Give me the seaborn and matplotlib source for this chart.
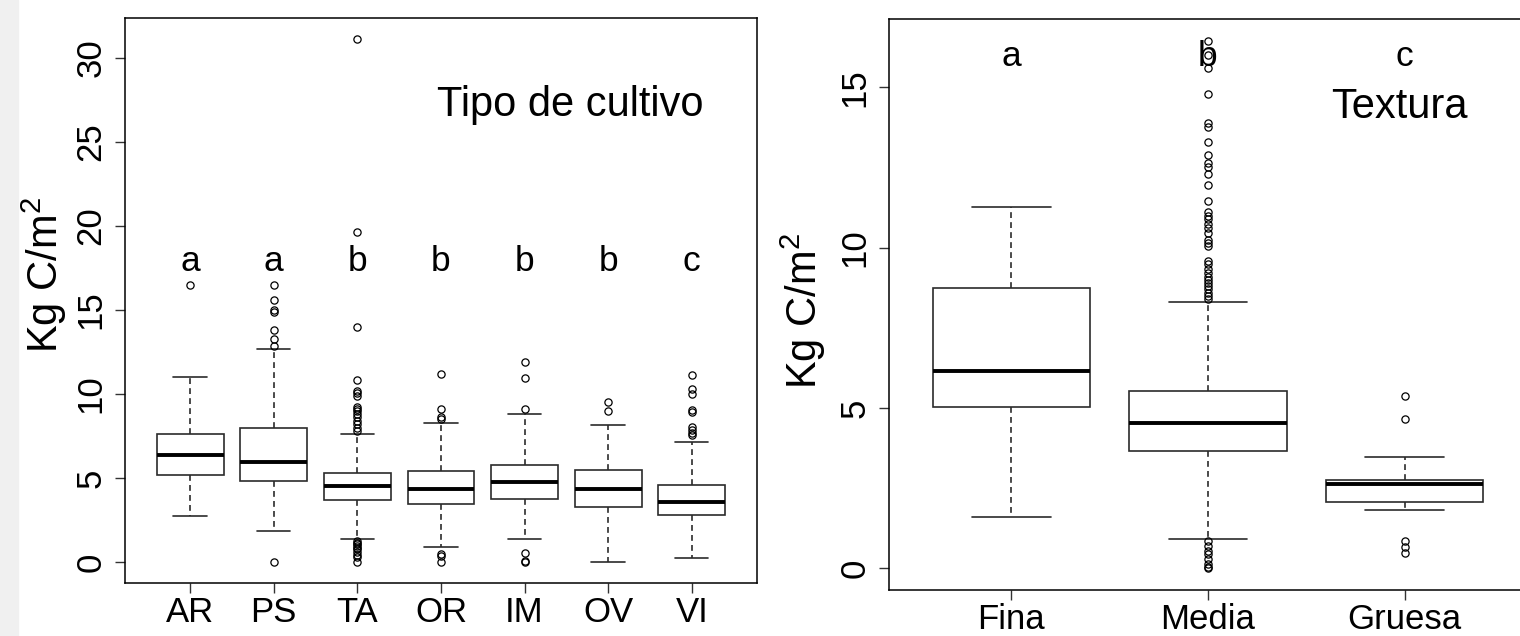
import numpy as np
import pandas as pd
import matplotlib.pyplot as plt
import seaborn as sns
from matplotlib.patches import Rectangle

# --- Tipo de cultivo (panel izquierdo) ---
cultivos = ['AR', 'PS', 'TA', 'OR', 'IM', 'OV', 'VI']
cult_letras = ['a', 'a', 'b', 'b', 'b', 'b', 'c']
cult_bigote_inf = [2.72, 1.83, 1.36, 0.88, 1.35, 0.00, 0.26]
cult_q1 = [5.16, 4.82, 3.72, 3.48, 3.73, 3.26, 2.78]
cult_mediana = [6.37, 5.98, 4.51, 4.37, 4.74, 4.35, 3.59]
cult_q3 = [7.60, 7.96, 5.30, 5.42, 5.77, 5.48, 4.61]
cult_bigote_sup = [11.01, 12.64, 7.60, 8.27, 8.81, 8.14, 7.13]
cult_atipicos = [
    [16.45],
    [0.0, 12.84, 13.26, 13.79, 14.84, 14.98, 15.56, 16.47],
    [0.0, 0.3, 0.45, 0.6, 0.75, 0.85, 0.95, 1.05, 1.15, 1.25,
     7.8, 8.0, 8.2, 8.4, 8.6, 8.8, 9.0, 9.1, 9.25, 9.9, 10.05, 10.2, 10.85,
     13.95, 19.6, 31.1],
    [0.0, 0.34, 0.5, 8.49, 8.63, 9.09, 11.21],
    [0.0, 0.05, 0.54, 9.09, 10.92, 11.89],
    [8.97, 9.52],
    [7.58, 7.7, 7.84, 8.04, 8.93, 9.03, 9.98, 10.32, 11.15],
]

# --- Textura (panel derecho) ---
texturas = ['Fina', 'Media', 'Gruesa']
tex_letras = ['a', 'b', 'c']
tex_bigote_inf = [1.61, 0.92, 1.83]
tex_q1 = [5.03, 3.67, 2.08]
tex_mediana = [6.15, 4.52, 2.62]
tex_q3 = [8.73, 5.53, 2.75]
tex_bigote_sup = [11.26, 8.31, 3.48]
tex_atipicos = [
    [],
    [0.0, 0.05, 0.15, 0.3, 0.45, 0.55, 0.7, 0.85,
     8.4, 8.5, 8.6, 8.7, 8.8, 8.9, 9.0, 9.1, 9.2, 9.35, 9.5, 9.6,
     10.05, 10.15, 10.25, 10.45, 10.6, 10.75, 10.9, 11.0, 11.1, 11.45,
     11.95, 12.3, 12.5, 12.65, 12.9, 13.3, 13.75, 13.9, 14.8, 15.6, 16.0, 16.45],
    [0.49, 0.67, 0.85, 4.67, 5.39],
]


def tabla(grupos, b_inf, q1, med, q3, b_sup, atip, peso=200):
    # seaborn solo acepta datos crudos: cada grupo se arma con sus cinco
    # estadisticos (cuartiles con peso para fijarlos) mas sus atipicos
    filas = []
    for g, lo, a, m, b, hi, out in zip(grupos, b_inf, q1, med, q3, b_sup, atip):
        vals = [lo, hi] + [a] * peso + [m] * peso + [b] * peso + list(out)
        filas += [(g, v) for v in vals]
    return pd.DataFrame(filas, columns=['grupo', 'carbono'])


df_cult = tabla(cultivos, cult_bigote_inf, cult_q1, cult_mediana, cult_q3,
                cult_bigote_sup, cult_atipicos)
df_tex = tabla(texturas, tex_bigote_inf, tex_q1, tex_mediana, tex_q3,
               tex_bigote_sup, tex_atipicos)

sns.set_style('ticks')
plt.rcParams['font.family'] = ['Liberation Sans', 'DejaVu Sans']
plt.rcParams['text.color'] = 'black'
plt.rcParams['axes.labelcolor'] = 'black'
plt.rcParams['mathtext.fontset'] = 'custom'
plt.rcParams['mathtext.rm'] = 'Liberation Sans'
plt.rcParams['mathtext.it'] = 'Liberation Sans'

fig = plt.figure(figsize=(15.2, 6.36), dpi=100)
fig.patches.append(Rectangle((0, 0), 18 / 1520, 1, transform=fig.transFigure,
                             color='#f0f0f0', zorder=0))

ax1 = fig.add_axes([0.0822, 0.0833, 0.4158, 0.8884])
ax2 = fig.add_axes([0.5851, 0.0719, 0.4193, 0.8978])

caja = dict(width=0.8, color='white', linecolor='#2b2b2b', linewidth=1.2,
            whis=1.5, fliersize=5.2,
            medianprops=dict(color='black', linewidth=2.8),
            whiskerprops=dict(linestyle=(0, (3.5, 2.5))),
            flierprops=dict(marker='o', markerfacecolor='none',
                            markeredgecolor='black', markeredgewidth=0.9))

sns.boxplot(data=df_cult, x='grupo', y='carbono', order=cultivos, ax=ax1, **caja)
sns.boxplot(data=df_tex, x='grupo', y='carbono', order=texturas, ax=ax2, **caja)

for i, letra in enumerate(cult_letras):
    ax1.text(i, 17.9, letra, ha='center', va='center', fontsize=25.5)
for i, letra in enumerate(tex_letras):
    ax2.text(i, 15.95, letra, ha='center', va='center', fontsize=25.5)

ax1.text(0.704, 0.846, 'Tipo de cultivo', transform=ax1.transAxes,
         ha='center', va='center', fontsize=30)
ax2.text(0.801, 0.847, 'Textura', transform=ax2.transAxes,
         ha='center', va='center', fontsize=30)

ax1.set_xlim(-0.78, 6.78)
ax1.set_ylim(-1.245, 32.35)
ax1.set_yticks([0, 5, 10, 15, 20, 25, 30])
ax2.set_xlim(-0.62, 2.62)
ax2.set_ylim(-0.68, 17.12)
ax2.set_yticks([0, 5, 10, 15])

for ax in (ax1, ax2):
    ax.set_xlabel('')
    ax.set_ylabel('')
    for s in ax.spines.values():
        s.set_visible(True)
        s.set_color('black')
        s.set_linewidth(1.1)
    ax.tick_params(length=7.2, width=1, color='#333333', labelsize=25,
                   labelcolor='black')
    ax.tick_params(axis='x', pad=2)
    ax.tick_params(axis='y', pad=5.5)
    plt.setp(ax.get_yticklabels(), rotation=90, va='center')

fig.text(44 / 1520, 1 - 275 / 636, 'Kg C/m$^2$', rotation=90,
         ha='center', va='center', fontsize=30)
fig.text(803 / 1520, 1 - 311 / 636, 'Kg C/m$^2$', rotation=90,
         ha='center', va='center', fontsize=30)

fig.savefig('out.png', dpi=100)
